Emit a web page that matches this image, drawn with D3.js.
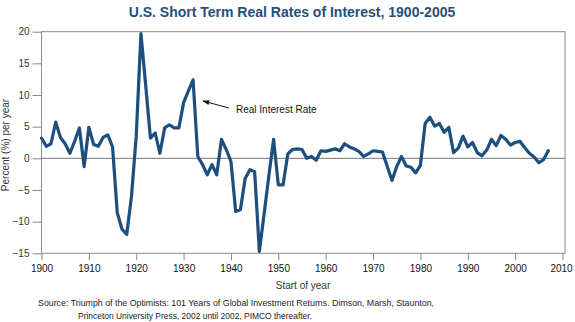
<!DOCTYPE html>
<html>
<head>
<meta charset="utf-8">
<script src="https://cdn.jsdelivr.net/npm/d3@7"></script>
<style>
  body { margin: 0; background: #fff; }
  text { font-family: "Liberation Sans", Arial, sans-serif; }
</style>
</head>
<body>
<div id="content"></div>
<script>
// Set up canvas
var width = 575, height = 322;
var margin = {top: 31.7, right: 10, bottom: 68.7, left: 41.5};

var years = [
  1900, 1901, 1902, 1903, 1904, 1905, 1906, 1907, 1908, 1909,
  1910, 1911, 1912, 1913, 1914, 1915, 1916, 1917, 1918, 1919,
  1920, 1921, 1922, 1923, 1924, 1925, 1926, 1927, 1928, 1929,
  1930, 1931, 1932, 1933, 1934, 1935, 1936, 1937, 1938, 1939,
  1940, 1941, 1942, 1943, 1944, 1945, 1946, 1947, 1948, 1949,
  1950, 1951, 1952, 1953, 1954, 1955, 1956, 1957, 1958, 1959,
  1960, 1961, 1962, 1963, 1964, 1965, 1966, 1967, 1968, 1969,
  1970, 1971, 1972, 1973, 1974, 1975, 1976, 1977, 1978, 1979,
  1980, 1981, 1982, 1983, 1984, 1985, 1986, 1987, 1988, 1989,
  1990, 1991, 1992, 1993, 1994, 1995, 1996, 1997, 1998, 1999,
  2000, 2001, 2002, 2003, 2004, 2005, 2006, 2007
];

// real short term rate, percent per year
var realRate = [
  3.2, 1.9, 2.3, 5.7, 3.3, 2.3, 0.8, 2.7, 4.8, -1.3,
  4.9, 2.2, 1.9, 3.3, 3.7, 1.8, -8.6, -11.2, -12.0, -6.0,
  3.5, 19.7, 11.5, 3.2, 4.0, 0.8, 4.8, 5.3, 4.8, 4.8,
  8.8, 10.6, 12.4, 0.3, -1.0, -2.6, -1.0, -2.6, 3.0, 1.4,
  -0.5, -8.4, -8.1, -3.2, -1.8, -2.1, -14.7, -8.8, -2.8, 3.0,
  -4.2, -4.2, 0.7, 1.4, 1.5, 1.4, 0.0, 0.3, -0.3, 1.2,
  1.1, 1.3, 1.5, 1.2, 2.3, 1.8, 1.5, 1.1, 0.3, 0.7,
  1.2, 1.1, 1.0, -1.3, -3.5, -1.3, 0.3, -1.2, -1.4, -2.3,
  -1.1, 5.5, 6.5, 5.1, 5.5, 4.1, 4.9, 0.9, 1.6, 3.5,
  1.8, 2.5, 0.9, 0.4, 1.3, 3.0, 2.0, 3.6, 3.0, 2.1,
  2.5, 2.7, 1.7, 0.8, 0.2, -0.7, -0.2, 1.2
];

var xTicks = [1900, 1910, 1920, 1930, 1940, 1950, 1960, 1970, 1980, 1990, 2000, 2010];
var yTicks = [-15, -10, -5, 0, 5, 10, 15, 20];

var title = "U.S. Short Term Real Rates of Interest, 1900-2005";
var sourceLines = [
  "Source: Triumph of the Optimists: 101 Years of Global Investment Returns. Dimson, Marsh, Staunton,",
  "Princeton University Press, 2002 until 2002, PIMCO thereafter."
];

var lineColor = "#1c4e7e";
var frameColor = "#8a8a8a";

var svg = d3.select("#content")
    .append("svg")
    .attr("width", width)
    .attr("height", height);

var x0 = margin.left, x1 = width - margin.right;
var y0 = margin.top, y1 = height - margin.bottom;

var xscale = d3.scaleLinear()
    .domain([1900, 2010])
    .range([x0, 562.5]);

var yscale = d3.scaleLinear()
    .domain([-15, 20])
    .range([y1, y0]);

// title
svg.append("text")
    .attr("x", 292)
    .attr("y", 17)
    .attr("text-anchor", "middle")
    .style("font-size", "14px")
    .style("font-weight", "bold")
    .style("fill", "#24507d")
    .text(title);

// frame
svg.append("rect")
    .attr("x", x0)
    .attr("y", y0)
    .attr("width", x1 - x0)
    .attr("height", y1 - y0)
    .style("fill", "none")
    .style("stroke", frameColor)
    .style("stroke-width", 1);

// zero line
svg.append("line")
    .attr("x1", x0).attr("x2", x1)
    .attr("y1", yscale(0)).attr("y2", yscale(0))
    .style("stroke", "#777")
    .style("stroke-width", 1);

var y_axis = d3.axisLeft(yscale)
    .tickValues(yTicks)
    .tickSize(9)
    .tickPadding(3);

var gy = svg.append("g")
    .attr("transform", "translate(" + x0 + ",0)")
    .call(y_axis);
gy.select(".domain").remove();
gy.selectAll("line").style("stroke", frameColor);
gy.selectAll("text")
    .style("font-size", "10px")
    .style("fill", "#333")
    .style("font-family", "Liberation Sans, Arial, sans-serif");

var x_axis = d3.axisBottom(xscale)
    .tickValues(xTicks)
    .tickFormat(d3.format("d"))
    .tickSize(7)
    .tickPadding(5);

var gx = svg.append("g")
    .attr("transform", "translate(0," + y1 + ")")
    .call(x_axis);
gx.select(".domain").remove();
gx.selectAll("line").style("stroke", frameColor);
gx.selectAll("text")
    .style("font-size", "10px")
    .style("fill", "#111")
    .style("font-family", "Liberation Sans, Arial, sans-serif");
// keep the last label inside the page
gx.selectAll("text")
    .filter(function(d) { return d === 2010; })
    .attr("dx", "-1.5");

// axis titles
svg.append("text")
    .attr("transform", "translate(9," + 145 + ") rotate(-90)")
    .attr("text-anchor", "middle")
    .style("font-size", "10px")
    .style("fill", "#333")
    .text("Percent (%) per year");

svg.append("text")
    .attr("x", 303)
    .attr("y", 289)
    .attr("text-anchor", "middle")
    .style("font-size", "10px")
    .style("fill", "#333")
    .text("Start of year");

// the series
var points = years.map(function(d, i) { return [d, realRate[i]]; });

var line = d3.line()
    .x(function(d) { return xscale(d[0]); })
    .y(function(d) { return yscale(d[1]); });

svg.append("path")
    .datum(points)
    .attr("d", line)
    .style("fill", "none")
    .style("stroke", lineColor)
    .style("stroke-width", 3.2)
    .style("stroke-linejoin", "round")
    .style("stroke-linecap", "round");

// annotation
svg.append("defs").append("marker")
    .attr("id", "arrow")
    .attr("viewBox", "0 0 10 10")
    .attr("refX", 9).attr("refY", 5)
    .attr("markerWidth", 7).attr("markerHeight", 7)
    .attr("orient", "auto")
    .append("path")
    .attr("d", "M0,1.5 L10,5 L0,8.5 Z")
    .style("fill", "#111");

svg.append("line")
    .attr("x1", 229).attr("y1", 108)
    .attr("x2", 203).attr("y2", 101)
    .style("stroke", "#111")
    .style("stroke-width", 1)
    .attr("marker-end", "url(#arrow)");

svg.append("text")
    .attr("x", 236)
    .attr("y", 112.5)
    .style("font-size", "10px")
    .style("fill", "#111")
    .text("Real Interest Rate");

// source note
svg.append("text")
    .attr("x", 38)
    .attr("y", 306)
    .attr("textLength", 396)
    .attr("lengthAdjust", "spacingAndGlyphs")
    .style("font-size", "9px")
    .style("fill", "#222")
    .text(sourceLines[0]);

svg.append("text")
    .attr("x", 78)
    .attr("y", 319)
    .attr("textLength", 234)
    .attr("lengthAdjust", "spacingAndGlyphs")
    .style("font-size", "9px")
    .style("fill", "#222")
    .text(sourceLines[1]);
</script>
</body>
</html>
